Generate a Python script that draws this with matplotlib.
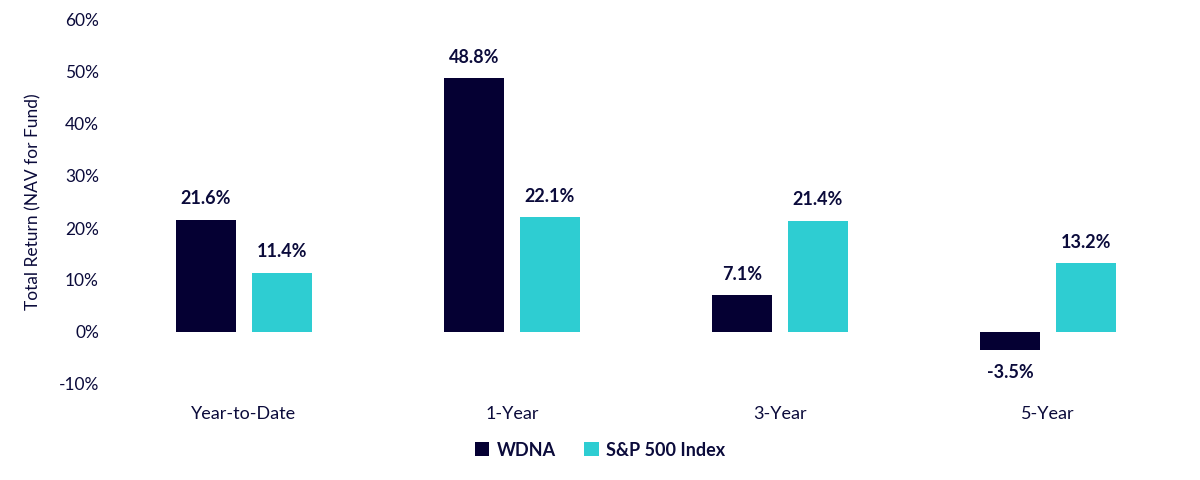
import numpy as np
import matplotlib.pyplot as plt
from matplotlib.ticker import FuncFormatter

# dados
periodos = ['Year-to-Date', '1-Year', '3-Year', '5-Year']
wdna = [21.6, 48.8, 7.1, -3.5]
sp500 = [11.4, 22.1, 21.4, 13.2]

cor_wdna = '#050033'
cor_sp = '#2ecdd2'
cor_texto = '#0b0b3b'

plt.rcParams['font.family'] = ['Lato', 'DejaVu Sans']

fig = plt.figure(figsize=(12, 4.8), dpi=100)
ax = fig.add_axes([110 / 1200, 1 - 384 / 480, 1072 / 1200, 364 / 480])

x = np.arange(len(periodos))
w = 60 / 268
d = 38 / 268

b1 = ax.bar(x - d, wdna, w, color=cor_wdna, label='WDNA')
b2 = ax.bar(x + d, sp500, w, color=cor_sp, label='S&P 500 Index')

for barras in (b1, b2):
    for b in barras:
        v = b.get_height()
        xc = b.get_x() + b.get_width() / 2
        if v >= 0:
            ax.annotate(f'{v:.1f}%', (xc, v), xytext=(0, 9), textcoords='offset points',
                        ha='center', va='bottom', fontsize=13, fontweight='bold', color=cor_texto)
        else:
            ax.annotate(f'{v:.1f}%', (xc, v), xytext=(0, -10), textcoords='offset points',
                        ha='center', va='top', fontsize=13, fontweight='bold', color=cor_texto)

ax.set_xlim(-0.5, 3.5)
ax.set_ylim(-10, 60)
ax.set_yticks(np.arange(-10, 61, 10))
ax.yaxis.set_major_formatter(FuncFormatter(lambda v, p: f'{v:.0f}%'))
ax.set_xticks(x)
ax.set_xticklabels(periodos)
ax.tick_params(length=0, labelsize=12.5, colors=cor_texto, pad=8)
ax.tick_params(axis='x', pad=16, labelsize=13)
ax.set_ylabel('Total Return (NAV for Fund)', fontsize=12.5, color=cor_texto, labelpad=12)
for s in ax.spines.values():
    s.set_visible(False)

fig.legend(loc='center', bbox_to_anchor=(0.5, 1 - 450 / 480), ncol=2, frameon=False,
           handlelength=0.8, handleheight=0.8, handletextpad=0.4, columnspacing=1.6,
           prop={'weight': 'bold', 'size': 13}, labelcolor=cor_texto)

fig.savefig('out.png', dpi=100)
